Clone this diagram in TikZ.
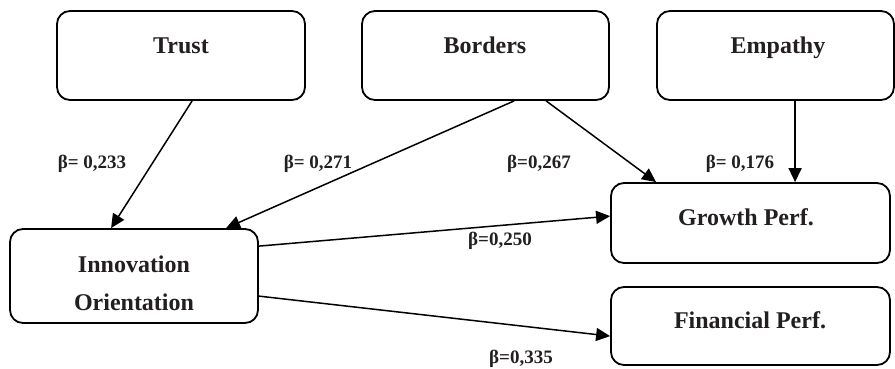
\documentclass[tikz,border=0pt]{standalone}
\usepackage{fontspec}
\setmainfont{Liberation Serif}
\usetikzlibrary{arrows.meta}
\definecolor{txt}{HTML}{231F20}
\begin{document}
\begin{tikzpicture}[x=1pt,y=-1pt,
  box/.style={draw=black,line width=1.8pt,rounded corners=13pt,inner sep=0pt},
  boxtext/.style={anchor=base,font=\fontsize{24}{28}\selectfont\bfseries,text=txt,inner sep=0pt},
  beta/.style={anchor=base,font=\fontsize{19}{22}\selectfont\bfseries,text=txt,inner sep=0pt},
  arr/.style={line width=1.5pt,-{Triangle[length=14pt,width=13pt]}}]
\useasboundingbox (0,0) rectangle (895,368);
% boxes
\node[box,minimum width=248pt,minimum height=89pt] (trust) at (181,55.5) {};
\node[box,minimum width=247pt,minimum height=89pt] (borders) at (485.5,55.5) {};
\node[box,minimum width=237pt,minimum height=89pt] (empathy) at (775.5,55.5) {};
\node[box,minimum width=279pt,minimum height=80pt] (growth) at (750.5,223) {};
\node[box,minimum width=279pt,minimum height=78pt] (financial) at (750.5,326) {};
\node[box,minimum width=248pt,minimum height=94pt] (innov) at (134,276) {};
% box texts
\node[boxtext] (ttrust) at (181,53) {Trust};
\node[boxtext] (tborders) at (485,53) {Borders};
\node[boxtext] (tempathy) at (778,53) {Empathy};
\node[boxtext] (tgrowth) at (746,225) {Growth Perf.};
\node[boxtext] (tfin) at (750,328) {Financial Perf.};
\node[boxtext] (tinnov1) at (134,272) {Innovation};
\node[boxtext] (tinnov2) at (134,310) {Orientation};
% connectors
\draw[arr] ([xshift=136pt]trust.south west) -- ([xshift=102pt]innov.north west);
\draw[arr] ([xshift=153pt]borders.south west) -- ([xshift=217pt]innov.north west);
\draw[arr] ([xshift=185pt]borders.south west) -- ([xshift=46pt]growth.north west);
\draw[arr] ([xshift=139pt]empathy.south west) -- ([xshift=185pt]growth.north west);
\draw[arr] ([yshift=-18pt]innov.north east) -- ([yshift=-34pt]growth.north west);
\draw[arr] ([yshift=-68pt]innov.north east) -- ([yshift=-50pt]financial.north west);
% labels
\node[beta] (b1) at (92,168) {β= 0,233};
\node[beta] (b2) at (318,168) {β= 0,271};
\node[beta] (b3) at (539,168) {β=0,267};
\node[beta] (b4) at (740,168) {β= 0,176};
\node[beta] (b5) at (500,245) {β=0,250};
\node[beta] (b6) at (521,363) {β=0,335};
\end{tikzpicture}
\end{document}
